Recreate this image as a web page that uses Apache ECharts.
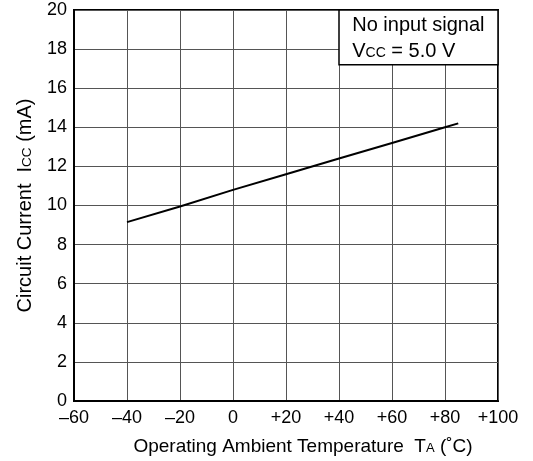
<!DOCTYPE html>
<html>
<head>
<meta charset="utf-8">
<script src="https://cdn.jsdelivr.net/npm/echarts@6/dist/echarts.min.js"></script>
<style>
  html, body { margin: 0; padding: 0; background: #fff; }
  #chart { width: 533px; height: 461px; }
</style>
</head>
<body>
<div id="chart"></div>
<script>
// Supply current vs. ambient temperature
const temperatures = [-40, -20, 0, 20, 40, 60, 80, 85];
const currentMA = [9.15, 9.95, 10.8, 11.6, 12.4, 13.2, 14.0, 14.2];
const xTicks = { min: -60, max: 100, step: 20 };
const yTicks = { min: 0, max: 20, step: 2 };
const noteBox = { from: [40, 17.2], to: [100, 20] };

const FONT = '"Liberation Sans", Arial, sans-serif';

// Signed temperature labels
function signed(v) {
  if (v > 0) return '+' + v;
  if (v < 0) return '\u2013' + Math.abs(v);
  return '0';
}

const chart = echarts.init(document.getElementById('chart'));
chart.setOption({
  animation: false,
  backgroundColor: '#fff',
  textStyle: { fontFamily: FONT, color: '#000' },
  grid: {
    left: 74, right: 35, top: 10, bottom: 60,
    show: true, borderColor: '#000', borderWidth: 2, backgroundColor: 'transparent'
  },
  xAxis: {
    type: 'value',
    min: xTicks.min, max: xTicks.max, interval: xTicks.step,
    axisLine: { show: true, onZero: false, lineStyle: { color: '#000', width: 2 } },
    axisTick: { show: false },
    splitLine: { show: true, lineStyle: { color: '#555', width: 1 } },
    axisLabel: { formatter: signed, color: '#000', fontSize: 18, fontFamily: FONT, margin: 8 },
    name: 'Operating Ambient Temperature  T{sub|A} (\u02DAC)',
    nameLocation: 'middle',
    nameGap: 36,
    nameTextStyle: {
      color: '#000', fontSize: 19, fontFamily: FONT,
      padding: [0, 0, 0, 34],
      rich: { sub: { fontSize: 13, fontFamily: FONT, color: '#000', padding: [4, 0, 0, 0] } }
    }
  },
  yAxis: {
    type: 'value',
    min: yTicks.min, max: yTicks.max, interval: yTicks.step,
    axisLine: { show: true, onZero: false, lineStyle: { color: '#000', width: 2 } },
    axisTick: { show: false },
    splitLine: { show: true, lineStyle: { color: '#555', width: 1 } },
    axisLabel: { color: '#000', fontSize: 18, fontFamily: FONT, margin: 7 },
    name: 'Circuit Current  I{sub|CC} (mA)',
    nameLocation: 'middle',
    nameRotate: 90,
    nameGap: 39,
    nameTextStyle: {
      color: '#000', fontSize: 20, fontFamily: FONT,
      rich: { sub: { fontSize: 13.5, fontFamily: FONT, color: '#000', padding: [4, 0, 0, 0] } }
    }
  },
  series: [{
    type: 'line',
    data: temperatures.map((t, i) => [t, currentMA[i]]),
    showSymbol: false,
    lineStyle: { color: '#000', width: 2 },
    z: 3,
    markArea: {
      silent: true,
      itemStyle: { color: '#fff', borderColor: '#000', borderWidth: 1.5 },
      label: {
        show: true,
        position: 'insideTopLeft',
        distance: 0,
        padding: [3, 0, 0, 14],
        color: '#000',
        fontSize: 20,
        fontFamily: FONT,
        lineHeight: 26,
        rich: {
          t: { fontSize: 20, fontFamily: FONT, color: '#000', lineHeight: 26 },
          sub: { fontSize: 14, fontFamily: FONT, color: '#000', lineHeight: 26, padding: [4, 0, 0, 0] }
        },
        formatter: '{t|No input signal}\n{t|V}{sub|CC}{t| = 5.0 V}'
      },
      data: [[{ coord: noteBox.from }, { coord: noteBox.to }]]
    }
  }]
});
</script>
</body>
</html>
